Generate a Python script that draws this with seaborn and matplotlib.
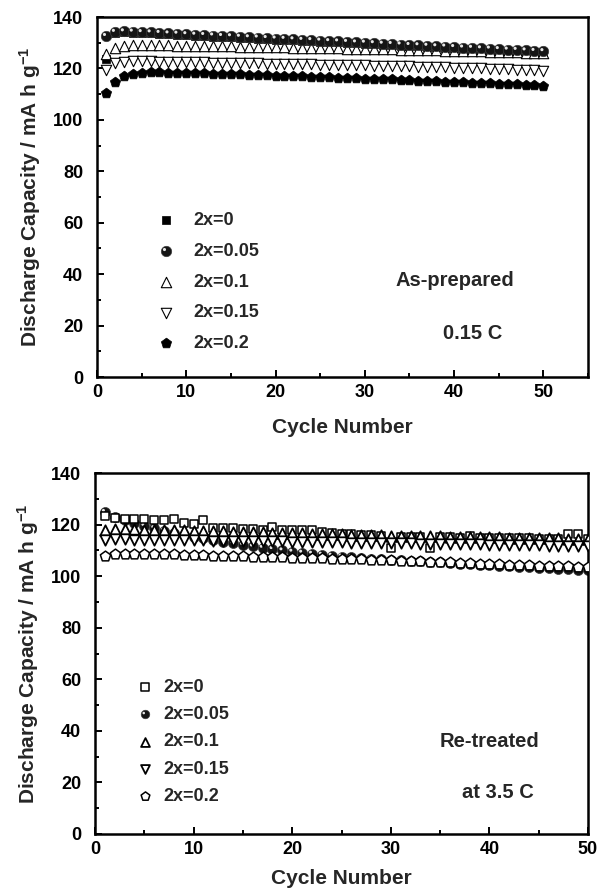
import matplotlib
matplotlib.use("Agg")
import matplotlib.pyplot as plt
import seaborn as sns
from matplotlib.path import Path
from matplotlib.markers import MarkerStyle
from matplotlib.ticker import MultipleLocator
from matplotlib.legend_handler import HandlerTuple

# ---------------- data ----------------
cycles = list(range(1, 51))
labels = ["2x=0", "2x=0.05", "2x=0.1", "2x=0.15", "2x=0.2"]

# As-prepared, 0.15 C
top_x0 = [123.6, 133.8, 134.0, 133.9, 133.7, 133.6, 133.4, 133.2, 133.1, 132.9,
          132.7, 132.6, 132.4, 132.2, 132.1, 131.9, 131.7, 131.6, 131.4, 131.2,
          131.1, 130.9, 130.7, 130.6, 130.4, 130.2, 130.1, 129.9, 129.7, 129.6,
          129.4, 129.2, 129.1, 128.9, 128.7, 128.6, 128.4, 128.2, 128.1, 127.9,
          127.7, 127.6, 127.4, 127.3, 127.1, 126.9, 126.8, 126.6, 126.4, 126.3]
top_x005 = [132.6, 134.2, 134.4, 134.3, 134.1, 134.0, 133.8, 133.6, 133.5, 133.3,
            133.1, 133.0, 132.8, 132.6, 132.5, 132.3, 132.1, 132.0, 131.8, 131.6,
            131.5, 131.3, 131.1, 131.0, 130.8, 130.6, 130.5, 130.3, 130.1, 130.0,
            129.8, 129.6, 129.5, 129.3, 129.1, 129.0, 128.8, 128.6, 128.5, 128.3,
            128.1, 128.0, 127.8, 127.7, 127.5, 127.3, 127.2, 127.0, 126.8, 126.7]
top_x01 = [125.7, 128.0, 128.7, 129.0, 129.1, 129.1, 129.0, 129.0, 128.9, 128.9,
           128.8, 128.8, 128.7, 128.7, 128.6, 128.5, 128.5, 128.4, 128.3, 128.3,
           128.2, 128.1, 128.1, 128.0, 127.9, 127.9, 127.8, 127.7, 127.7, 127.6,
           127.5, 127.4, 127.4, 127.3, 127.2, 127.1, 127.0, 127.0, 126.9, 126.8,
           126.7, 126.6, 126.6, 126.5, 126.4, 126.3, 126.2, 126.1, 126.0, 125.9]
top_x015 = [119.3, 122.0, 122.6, 122.7, 122.7, 122.7, 122.6, 122.6, 122.5, 122.5,
            122.4, 122.4, 122.3, 122.3, 122.2, 122.1, 122.1, 122.0, 121.9, 121.9,
            121.8, 121.7, 121.7, 121.6, 121.5, 121.5, 121.4, 121.3, 121.3, 121.2,
            121.1, 121.0, 121.0, 120.9, 120.8, 120.7, 120.6, 120.5, 120.4, 120.3,
            120.2, 120.1, 120.0, 119.9, 119.8, 119.6, 119.5, 119.4, 119.2, 119.1]
top_x02 = [110.4, 114.6, 117.2, 118.0, 118.4, 118.5, 118.5, 118.4, 118.4, 118.3,
           118.2, 118.1, 118.0, 117.9, 117.8, 117.7, 117.6, 117.4, 117.3, 117.2,
           117.1, 117.0, 116.9, 116.8, 116.6, 116.5, 116.4, 116.3, 116.2, 116.0,
           115.9, 115.8, 115.7, 115.5, 115.4, 115.3, 115.1, 115.0, 114.9, 114.7,
           114.6, 114.5, 114.3, 114.2, 114.0, 113.9, 113.8, 113.6, 113.5, 113.3]

# Re-treated at 3.5 C
bot_x0 = [123.5, 122.5, 122.2, 122.2, 122.0, 121.9, 121.9, 122.0, 120.8, 120.3,
          121.6, 118.6, 118.5, 118.5, 118.3, 118.3, 118.0, 119.2, 118.0, 117.9,
          117.9, 117.8, 117.3, 116.8, 116.5, 116.2, 116.0, 115.8, 115.5, 111.0,
          115.3, 115.2, 115.1, 110.8, 115.0, 115.0, 114.9, 115.4, 114.8, 114.8,
          114.7, 114.7, 114.6, 114.6, 114.5, 114.5, 114.4, 116.2, 116.3, 114.3]
bot_x005 = [124.9, 123.0, 121.7, 120.5, 119.5, 118.6, 117.7, 116.9, 116.1, 115.3,
            114.6, 113.9, 113.3, 112.7, 112.1, 111.5, 111.0, 110.5, 110.0, 109.5,
            109.1, 108.7, 108.3, 107.9, 107.6, 107.3, 107.0, 106.8, 106.5, 106.3,
            106.1, 105.9, 105.7, 105.5, 105.3, 105.1, 104.9, 104.7, 104.5, 104.3,
            104.1, 103.9, 103.7, 103.5, 103.3, 103.1, 102.9, 102.7, 102.5, 102.2]
bot_x01 = [117.8, 118.1, 118.2, 118.1, 118.0, 118.0, 117.9, 117.8, 117.8, 117.7,
           117.6, 117.5, 117.4, 117.3, 117.2, 117.1, 117.0, 116.9, 116.8, 116.7,
           116.6, 116.5, 116.4, 116.3, 116.2, 116.1, 116.0, 115.9, 115.8, 115.7,
           115.7, 115.6, 115.5, 115.5, 115.4, 115.3, 115.3, 115.2, 115.1, 115.1,
           115.0, 114.9, 114.9, 114.8, 114.7, 114.7, 114.6, 114.5, 114.5, 114.4]
bot_x015 = [114.2, 114.3, 114.3, 114.2, 114.2, 114.1, 114.1, 114.0, 114.0, 113.9,
            113.9, 113.8, 113.8, 113.7, 113.7, 113.6, 113.6, 113.5, 113.5, 113.4,
            113.3, 113.3, 113.2, 113.2, 113.1, 113.0, 113.0, 112.9, 112.9, 112.8,
            112.7, 112.7, 112.6, 112.6, 112.5, 112.4, 112.4, 112.3, 112.3, 112.2,
            112.1, 112.1, 112.0, 112.0, 111.9, 111.8, 111.8, 111.7, 111.7, 111.6]
bot_x02 = [108.0, 108.5, 108.7, 108.6, 108.6, 108.5, 108.5, 108.4, 108.3, 108.2,
           108.1, 108.0, 107.9, 107.8, 107.7, 107.6, 107.5, 107.4, 107.3, 107.2,
           107.1, 107.0, 106.9, 106.8, 106.7, 106.6, 106.5, 106.3, 106.2, 106.1,
           106.0, 105.8, 105.7, 105.6, 105.4, 105.3, 105.2, 105.0, 104.9, 104.8,
           104.6, 104.5, 104.4, 104.2, 104.1, 104.0, 103.9, 103.8, 103.7, 103.6]

# ---------------- style ----------------
sns.set_theme(style="ticks")
plt.rcParams["font.family"] = ["Liberation Sans", "DejaVu Sans"]
plt.rcParams["font.weight"] = "bold"
plt.rcParams["axes.labelweight"] = "bold"
plt.rcParams["mathtext.fontset"] = "custom"
plt.rcParams["mathtext.rm"] = "Liberation Sans:bold"
plt.rcParams["mathtext.default"] = "rm"

fig = plt.figure(figsize=(6.01, 8.91), dpi=100)
ax1 = fig.add_axes([97 / 601, 1 - 377 / 891, 491 / 601, 360 / 891])
ax2 = fig.add_axes([95 / 601, 1 - 834 / 891, 493 / 601, 361 / 891])

# highlight marker to give the "sphere" look
hl_path = Path.make_compound_path(
    Path([[-1, -1], [1, 1]], [Path.MOVETO, Path.MOVETO]),
    Path.circle((-0.28, 0.30), 0.30),
)
hl_marker = MarkerStyle(hl_path)


def draw(ax, y, marker, s, face, edge, lw, z):
    sns.scatterplot(x=cycles, y=y, marker=marker, s=s, color=face,
                    edgecolor=edge, linewidth=lw, ax=ax, zorder=z, legend=False)
    return ax.collections[-1]


def sphere(ax, y, s, z):
    a = draw(ax, y, "o", s, "#151515", "#3a3a3a", 0.5, z)
    b = draw(ax, y, hl_marker, s, "#e6e6e6", "none", 0, z + 0.1)
    return (a, b)


# top panel
h0 = draw(ax1, top_x0, "s", 34, "black", "black", 0.5, 2)
h2 = draw(ax1, top_x01, "^", 56, "white", "black", 0.8, 3)
h1 = sphere(ax1, top_x005, 56, 4)
h3 = draw(ax1, top_x015, "v", 56, "white", "black", 0.8, 5)
h4 = draw(ax1, top_x02, "p", 60, "black", "black", 0.5, 6)

# bottom panel
g1 = sphere(ax2, bot_x005, 52, 2)
g0 = draw(ax2, bot_x0, "s", 38, "white", "black", 1.1, 3)
g2 = draw(ax2, bot_x01, "^", 56, "white", "black", 1.3, 4)
g3 = draw(ax2, bot_x015, "v", 56, "white", "black", 1.3, 5)
g4 = draw(ax2, bot_x02, "p", 60, "white", "black", 1.1, 6)

for ax, xmax, lp in ((ax1, 55, 12), (ax2, 50, 8)):
    ax.set_xlim(0, xmax)
    ax.set_ylim(0, 140)
    ax.xaxis.set_major_locator(MultipleLocator(10))
    ax.xaxis.set_minor_locator(MultipleLocator(5))
    ax.yaxis.set_major_locator(MultipleLocator(20))
    ax.yaxis.set_minor_locator(MultipleLocator(10))
    ax.tick_params(which="both", direction="in", top=False, right=False,
                   colors="black", width=1.4)
    ax.tick_params(which="major", length=5, labelsize=13)
    ax.tick_params(which="minor", length=3)
    ax.tick_params(axis="y", pad=10)
    ax.tick_params(axis="x", pad=5)
    for lab in ax.get_xticklabels() + ax.get_yticklabels():
        lab.set_fontweight("bold")
    for sp in ax.spines.values():
        sp.set_linewidth(1.8)
        sp.set_color("black")
        sp.set_visible(True)
    ax.set_xlabel("Cycle Number", fontsize=15, labelpad=lp)
    ax.set_ylabel("Discharge Capacity / mA h g$^{-1}$", fontsize=15, labelpad=7)
    ax.set_facecolor("white")

hm = {tuple: HandlerTuple(ndivide=1, pad=0)}
ax1.legend([h0, h1, h2, h3, h4], labels, loc="upper left",
           bbox_to_anchor=(0.122, 0.458), frameon=False, fontsize=13,
           handlelength=1.0, handletextpad=1.0, labelspacing=0.76,
           borderpad=0, borderaxespad=0, handler_map=hm)
ax2.legend([g0, g1, g2, g3, g4], labels, loc="upper left",
           bbox_to_anchor=(0.083, 0.43), frameon=False, fontsize=13,
           handlelength=1.0, handletextpad=0.5, labelspacing=0.57,
           borderpad=0, borderaxespad=0, handler_map=hm, markerscale=0.85)

ax1.text(0.729, 0.267, "As-prepared", transform=ax1.transAxes, fontsize=14.5,
         fontweight="bold", ha="center", va="center")
ax1.text(0.766, 0.122, "0.15 C", transform=ax1.transAxes, fontsize=14.5,
         fontweight="bold", ha="center", va="center")
ax2.text(0.801, 0.255, "Re-treated", transform=ax2.transAxes, fontsize=14.5,
         fontweight="bold", ha="center", va="center")
ax2.text(0.817, 0.114, "at 3.5 C", transform=ax2.transAxes, fontsize=14.5,
         fontweight="bold", ha="center", va="center")

fig.patch.set_facecolor("white")
fig.savefig("out.png", dpi=100, facecolor="white")
